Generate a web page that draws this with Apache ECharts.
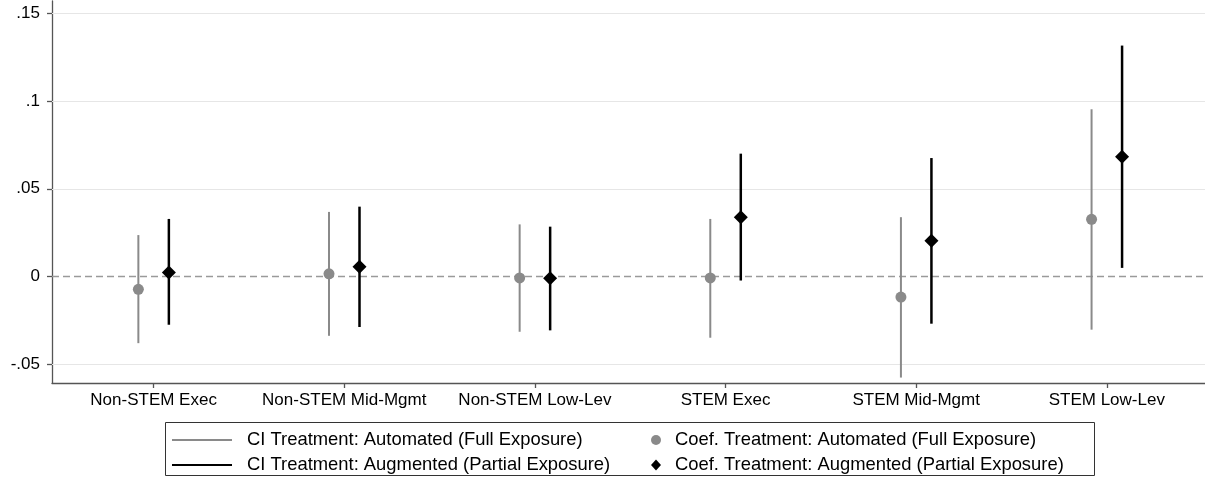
<!DOCTYPE html>
<html>
<head>
<meta charset="utf-8">
<script src="https://cdn.jsdelivr.net/npm/echarts@6/dist/echarts.min.js"></script>
<style>
html,body{margin:0;padding:0;background:#fff;}
#chart{width:1205px;height:480px;}
</style>
</head>
<body>
<div id="chart"></div>
<script>
// ---- data ----
var categories = ['Non-STEM Exec', 'Non-STEM Mid-Mgmt', 'Non-STEM Low-Lev', 'STEM Exec', 'STEM Mid-Mgmt', 'STEM Low-Lev'];
var automatedCoef = [-0.0073, 0.0015, -0.0008, -0.0008, -0.0117, 0.0326];
var automatedLow  = [-0.0380, -0.0338, -0.0315, -0.0349, -0.0576, -0.0303];
var automatedHigh = [0.0236, 0.0368, 0.0297, 0.0328, 0.0338, 0.0953];
var augmentedCoef = [0.0023, 0.0055, -0.0010, 0.0338, 0.0204, 0.0683];
var augmentedLow  = [-0.0275, -0.0288, -0.0307, -0.0023, -0.0269, 0.0049];
var augmentedHigh = [0.0328, 0.0398, 0.0284, 0.0700, 0.0675, 0.1316];
var yTickValues = [-0.05, 0, 0.05, 0.1, 0.15];
var yTickLabels = ['-.05', '0', '.05', '.1', '.15'];

var names = {
  ciAuto: 'CI Treatment: Automated (Full Exposure)',
  ciAug: 'CI Treatment: Augmented (Partial Exposure)',
  coefAuto: 'Coef. Treatment: Automated (Full Exposure)',
  coefAug: 'Coef. Treatment: Augmented (Partial Exposure)'
};

var OFFSET = 0.08;
var GRAY = '#8a8a8a';
var BLACK = '#000000';
var FONT = 'Liberation Sans, Arial, Helvetica, sans-serif';
var FS = 17;
var LFS = 18.4;

function ciData(lo, hi, off) {
  return categories.map(function (c, i) { return [i + off, lo[i], hi[i]]; });
}
function ptData(v, off) {
  return categories.map(function (c, i) { return [i + off, v[i]]; });
}
function ciRender(width) {
  return function (params, api) {
    var p1 = api.coord([api.value(0), api.value(1)]);
    var p2 = api.coord([api.value(0), api.value(2)]);
    return {
      type: 'line',
      shape: { x1: p1[0], y1: p1[1], x2: p2[0], y2: p2[1] },
      style: { stroke: api.visual('color'), lineWidth: width }
    };
  };
}

var gridLines = yTickValues.filter(function (v) { return v !== 0; }).map(function (v) {
  return { yAxis: v, lineStyle: { color: '#e6e6e6', width: 1.2, type: 'solid' } };
});
gridLines.push({ yAxis: 0, lineStyle: { color: '#9a9a9a', width: 1.3, type: [7, 4] } });

var chart = echarts.init(document.getElementById('chart'), null, { renderer: 'canvas' });
chart.setOption({
  animation: false,
  backgroundColor: '#fff',
  textStyle: { fontFamily: FONT },
  grid: { left: 52, right: 0, top: 1, bottom: 97, containLabel: false },
  xAxis: {
    type: 'value',
    min: -0.533,
    max: 5.515,
    axisLine: { show: true, onZero: false, lineStyle: { color: '#555', width: 1.3 } },
    axisTick: { show: true, length: 5, customValues: [0, 1, 2, 3, 4, 5], lineStyle: { color: '#555', width: 1.3 } },
    axisLabel: {
      show: true, customValues: [0, 1, 2, 3, 4, 5], margin: 9,
      color: '#000', fontSize: FS, fontFamily: FONT,
      formatter: function (v) { return categories[Math.round(v)]; }
    },
    splitLine: { show: false }
  },
  yAxis: {
    type: 'value',
    min: -0.0607,
    max: 0.157,
    axisLine: { show: true, onZero: false, lineStyle: { color: '#555', width: 1.3 } },
    axisTick: { show: true, length: 5, customValues: yTickValues, lineStyle: { color: '#555', width: 1.3 } },
    axisLabel: {
      show: true, customValues: yTickValues, margin: 12,
      color: '#000', fontSize: FS, fontFamily: FONT,
      formatter: function (v) {
        for (var k = 0; k < yTickValues.length; k++) {
          if (Math.abs(yTickValues[k] - v) < 1e-9) return yTickLabels[k];
        }
        return '';
      }
    },
    splitLine: { show: false }
  },
  legend: [
    {
      orient: 'vertical', left: 172, top: 429, padding: 0,
      itemWidth: 60, itemHeight: 2, itemGap: 3,
      icon: 'rect',
      textStyle: { fontSize: LFS, fontFamily: FONT, color: '#000', lineHeight: 22, padding: [0, 0, 0, 10] },
      data: [names.ciAuto, names.ciAug]
    },
    {
      orient: 'vertical', left: 651, top: 429, padding: 0,
      itemWidth: 10, itemHeight: 11, itemGap: 3,
      textStyle: { fontSize: LFS, fontFamily: FONT, color: '#000', lineHeight: 22, padding: [0, 0, 0, 9] },
      data: [{ name: names.coefAuto, icon: 'circle' }, { name: names.coefAug, icon: 'diamond' }]
    }
  ],
  graphic: [{
    type: 'rect', left: 165, top: 422, z: -1,
    shape: { width: 929, height: 53 },
    style: { fill: '#fff', stroke: '#333', lineWidth: 1 }
  }],
  series: [
    {
      name: names.ciAuto, type: 'custom', renderItem: ciRender(2),
      itemStyle: { color: GRAY }, data: ciData(automatedLow, automatedHigh, -OFFSET), z: 3,
      markLine: { silent: true, symbol: 'none', label: { show: false }, data: gridLines, z: 1 }
    },
    {
      name: names.ciAug, type: 'custom', renderItem: ciRender(2.5),
      itemStyle: { color: BLACK }, data: ciData(augmentedLow, augmentedHigh, OFFSET), z: 3
    },
    {
      name: names.coefAuto, type: 'scatter', symbol: 'circle', symbolSize: 11,
      itemStyle: { color: GRAY, opacity: 1 }, data: ptData(automatedCoef, -OFFSET), z: 4
    },
    {
      name: names.coefAug, type: 'scatter', symbol: 'diamond', symbolSize: [14, 14],
      itemStyle: { color: BLACK, opacity: 1 }, data: ptData(augmentedCoef, OFFSET), z: 4
    }
  ]
});
</script>
</body>
</html>
